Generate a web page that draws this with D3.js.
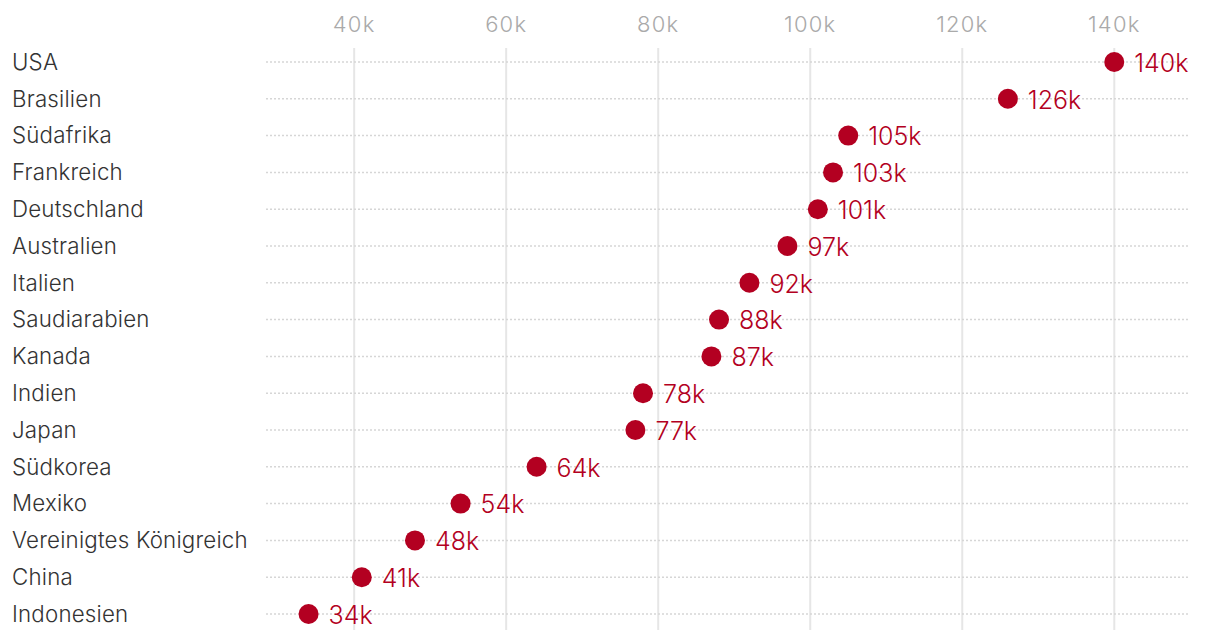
<!DOCTYPE html>
<meta charset="utf-8">
<style>
  body { margin: 0; background: #fff; }
  svg { font-family: Inter, "Noto Sans", sans-serif; font-weight: 300; }
</style>
<svg width="1220" height="640"></svg>
<script src="https://d3js.org/d3.v7.min.js"></script>
<script>

var countries = ["USA", "Brasilien", "Südafrika", "Frankreich", "Deutschland", "Australien", "Italien",
  "Saudiarabien", "Kanada", "Indien", "Japan", "Südkorea", "Mexiko", "Vereinigtes Königreich", "China", "Indonesien"];
var values = [140, 126, 105, 103, 101, 97, 92, 88, 87, 78, 77, 64, 54, 48, 41, 34];
var ticks = [40, 60, 80, 100, 120, 140];

var svg = d3.select("svg");

var x = d3.scaleLinear()
    .domain([28.4, 149.7])
    .range([266, 1188]);

var y = d3.scalePoint()
    .domain(countries)
    .range([62, 614]);

// vertical grid
svg.append("g")
  .selectAll("line")
  .data(ticks)
  .join("line")
    .attr("x1", x).attr("x2", x)
    .attr("y1", 48).attr("y2", 630)
    .attr("stroke", "#e6e6e6")
    .attr("stroke-width", 2);

svg.append("g")
  .selectAll("text")
  .data(ticks)
  .join("text")
    .attr("x", x)
    .attr("y", 32)
    .attr("text-anchor", "middle")
    .attr("fill", "#aaa")
    .attr("font-size", 22)
    .attr("letter-spacing", 1.2)
    .text(function(d) { return d + "k"; });

// dotted row lines
svg.append("g")
  .selectAll("line")
  .data(countries)
  .join("line")
    .attr("x1", x.range()[0]).attr("x2", x.range()[1])
    .attr("y1", function(d) { return y(d); })
    .attr("y2", function(d) { return y(d); })
    .attr("stroke", "#d6d6d6")
    .attr("stroke-width", 1.5)
    .attr("stroke-dasharray", "2,2");

svg.append("g")
  .selectAll("text")
  .data(countries)
  .join("text")
    .attr("x", 12)
    .attr("y", function(d) { return y(d); })
    .attr("dy", "0.35em")
    .attr("fill", "#333")
    .attr("font-size", 22.3)
    .attr("letter-spacing", 0.2)
    .text(function(d) { return d; });

var pts = svg.append("g")
  .selectAll("g")
  .data(countries)
  .join("g")
    .attr("transform", function(d, i) { return "translate(" + x(values[i]) + "," + y(d) + ")"; });

pts.append("circle")
    .attr("r", 10)
    .attr("fill", "#b30021");

pts.append("text")
    .attr("x", 20)
    .attr("y", 1)
    .attr("dy", "0.35em")
    .attr("fill", "#b30021")
    .attr("font-size", 25)
    .text(function(d, i) { return values[i] + "k"; });

</script>
